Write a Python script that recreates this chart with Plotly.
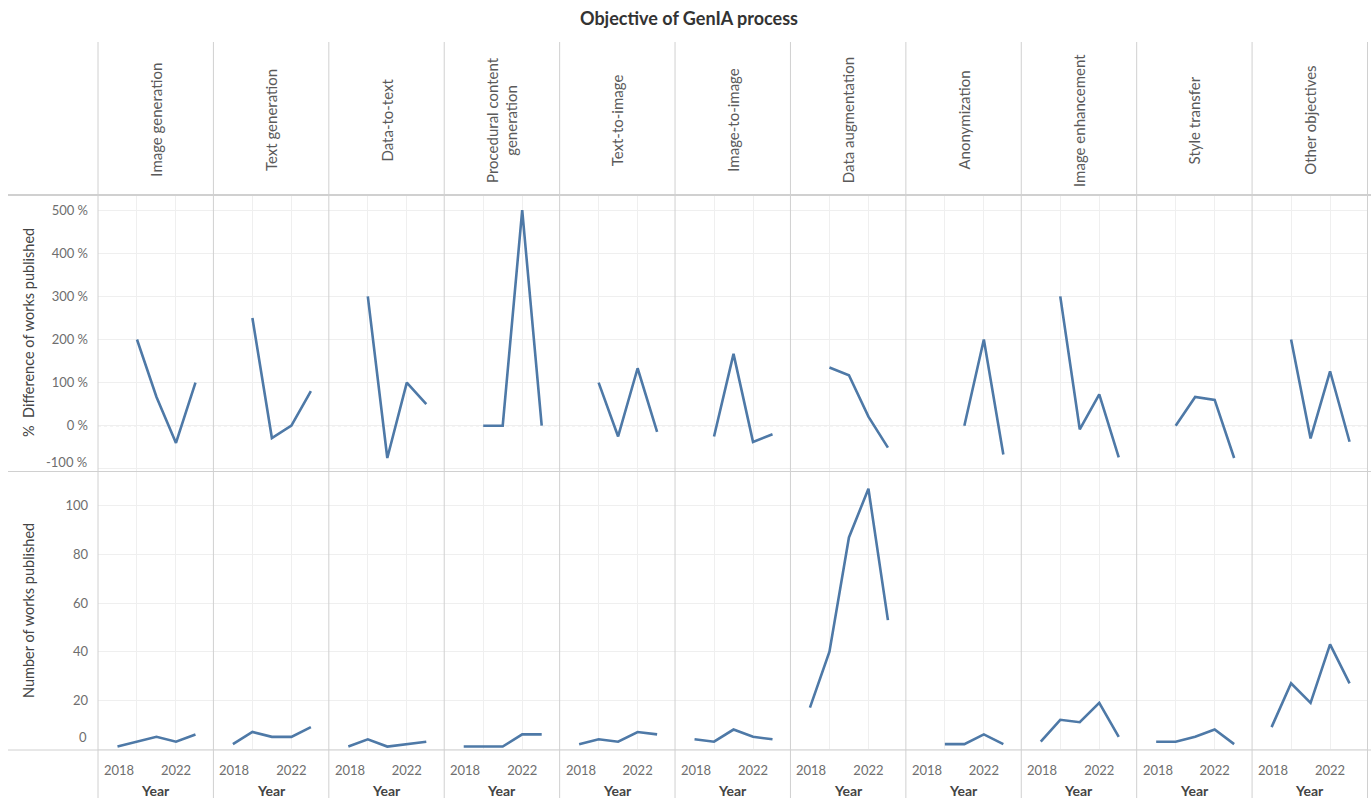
import plotly.graph_objects as go
from plotly.subplots import make_subplots

W, H = 1371, 798

# ---- data ---------------------------------------------------------------
categories = [
    "Image generation", "Text generation", "Data-to-text",
    "Procedural content<br>generation", "Text-to-image", "Image-to-image",
    "Data augmentation", "Anonymization", "Image enhancement",
    "Style transfer", "Other objectives",
]
years = [2019, 2020, 2021, 2022, 2023]

# number of works published per year
works_image_generation = [1, 3, 5, 3, 6]
works_text_generation = [2, 7, 5, 5, 9]
works_data_to_text = [1, 4, 1, 2, 3]
works_procedural = [1, 1, 1, 6, 6]
works_text_to_image = [2, 4, 3, 7, 6]
works_image_to_image = [4, 3, 8, 5, 4]
works_data_augmentation = [17, 40, 87, 107, 53]
works_anonymization = [None, 2, 2, 6, 2]
works_image_enhancement = [3, 12, 11, 19, 5]
works_style_transfer = [3, 3, 5, 8, 2]
works_other = [9, 27, 19, 43, 27]

# % difference of works published vs. previous year
diff_image_generation = [None, 200, 66.7, -40, 100]
diff_text_generation = [None, 250, -28.6, 0, 80]
diff_data_to_text = [None, 300, -75, 100, 50]
diff_procedural = [None, 0, 0, 500, 0]
diff_text_to_image = [None, 100, -25, 133.3, -14.3]
diff_image_to_image = [None, -25, 166.7, -37.5, -20]
diff_data_augmentation = [None, 135, 117, 21, -51]
diff_anonymization = [None, None, 0, 200, -66.7]
diff_image_enhancement = [None, 300, -8.3, 72.7, -73.7]
diff_style_transfer = [None, 0, 66.7, 60, -75]
diff_other = [None, 200, -29.6, 126.3, -37.2]

pct_ticks = [-100, 0, 100, 200, 300, 400, 500]
count_ticks = [0, 20, 40, 60, 80, 100]
year_ticks = [2018, 2020, 2022]

works = [
    works_image_generation, works_text_generation, works_data_to_text,
    works_procedural, works_text_to_image, works_image_to_image,
    works_data_augmentation, works_anonymization, works_image_enhancement,
    works_style_transfer, works_other,
]
diffs = [
    diff_image_generation, diff_text_generation, diff_data_to_text,
    diff_procedural, diff_text_to_image, diff_image_to_image,
    diff_data_augmentation, diff_anonymization, diff_image_enhancement,
    diff_style_transfer, diff_other,
]

# ---- layout helpers -----------------------------------------------------
LINE = "#4e79a7"
GRID = "#efefef"
BORDER = "#d0d0d0"
FONT = "Lato"
TICK_COLOR = "#6e6e6e"

def fx(px):
    return px / W

def fy(py):
    return 1 - py / H

LEFT, RIGHT = 98, 1367.5
COLW = (RIGHT - LEFT) / len(categories)
TOP_PANE = (195, 471)
BOT_PANE = (472, 750)

fig = make_subplots(rows=2, cols=len(categories),
                    horizontal_spacing=0, vertical_spacing=0)

for i, cat in enumerate(categories):
    c = i + 1
    fig.add_trace(go.Scatter(x=years, y=diffs[i], mode="lines",
                             line=dict(color=LINE, width=2.6),
                             connectgaps=False, showlegend=False),
                  row=1, col=c)
    fig.add_trace(go.Scatter(x=years, y=works[i], mode="lines",
                             line=dict(color=LINE, width=2.6),
                             connectgaps=False, showlegend=False),
                  row=2, col=c)
    xdom = [fx(LEFT + i * COLW), fx(LEFT + (i + 1) * COLW)]
    common_x = dict(domain=xdom, range=[2018, 2023.92], tickvals=year_ticks,
                    showgrid=True, gridcolor=GRID, gridwidth=1,
                    zeroline=False, showline=False, ticks="")
    fig.update_xaxes(row=1, col=c, showticklabels=False, **common_x)
    fig.update_xaxes(row=2, col=c, showticklabels=True,
                     ticktext=["", "", "2022"],
                     tickfont=dict(family=FONT, size=13, color=TICK_COLOR),
                     ticklabelstandoff=11, **common_x)
    fig.update_yaxes(row=1, col=c, domain=[fy(TOP_PANE[1]), fy(TOP_PANE[0])],
                     range=[-105.1, 535.3], tickvals=pct_ticks,
                     ticktext=["" if v == -100 else f"{v} %" for v in pct_ticks],
                     showticklabels=(c == 1), showgrid=True, gridcolor=GRID,
                     zeroline=False, showline=False, ticks="",
                     ticklabelstandoff=9,
                     tickfont=dict(family=FONT, size=13, color=TICK_COLOR))
    fig.update_yaxes(row=2, col=c, domain=[fy(BOT_PANE[1]), fy(BOT_PANE[0])],
                     range=[-0.41, 113.9], tickvals=count_ticks,
                     ticktext=["" if v == 0 else str(v) for v in count_ticks],
                     showticklabels=(c == 1), showgrid=True, gridcolor=GRID,
                     zeroline=False, showline=False, ticks="",
                     ticklabelstandoff=9,
                     tickfont=dict(family=FONT, size=13, color=TICK_COLOR))

def note(text, x, y, xref="paper", yref="paper", **kw):
    d = dict(text=text, x=x, y=y, xref=xref, yref=yref, showarrow=False,
             xanchor="center", yanchor="middle")
    d.update(kw)
    return d

annotations = []
# chart title
annotations.append(note("<b>Objective of GenIA process</b>", fx(689), fy(18),
                        font=dict(family=FONT, size=18, color="#333333")))
ncol = len(categories)
for i, cat in enumerate(categories):
    cx = fx(LEFT + (i + 0.5) * COLW)
    # column header
    annotations.append(note(cat, cx, fy(120), textangle=-90,
                            font=dict(family=FONT, size=15, color="#5a5a5a")))
    # x axis title
    annotations.append(note("Year", cx, fy(790),
                            font=dict(family=FONT, size=14, color="#444444", weight="bold")))
    # first year label, kept inside its pane
    xname = "x" + str(ncol + i + 1)
    annotations.append(note("2018", 2018, fy(770), xref=xname, xanchor="left", xshift=4,
                            font=dict(family=FONT, size=13, color=TICK_COLOR)))

# edge tick labels nudged inside the panes
annotations.append(note("-100 %", fx(89), -100, yref="y", xanchor="right", yshift=7,
                        font=dict(family=FONT, size=13, color=TICK_COLOR)))
annotations.append(note("0", fx(89), 0, yref="y" + str(ncol + 1), xanchor="right", yshift=12,
                        font=dict(family=FONT, size=13, color=TICK_COLOR)))
# row titles
annotations.append(note("%&nbsp; Difference of works published", fx(28), fy(333),
                        textangle=-90, font=dict(family=FONT, size=14.5, color="#444444")))
annotations.append(note("Number of works published", fx(28), fy(611),
                        textangle=-90, font=dict(family=FONT, size=14.5, color="#444444")))

shapes = []
# dotted zero reference line across the % difference row
shapes.append(dict(type="line", xref="paper", yref="y", x0=fx(LEFT), x1=fx(RIGHT),
                   y0=0, y1=0, line=dict(color="#c2c2c2", width=1, dash="dot"), layer="below"))
# column dividers
for i in range(ncol + 1):
    xp = fx(LEFT + i * COLW)
    shapes.append(dict(type="line", xref="paper", yref="paper", x0=xp, x1=xp,
                       y0=fy(42), y1=fy(798), line=dict(color=BORDER, width=1)))
# row dividers
for py, wdt in [(195, 2), (471.5, 1), (750, 1)]:
    shapes.append(dict(type="line", xref="paper", yref="paper", x0=fx(8), x1=1,
                       y0=fy(py), y1=fy(py), line=dict(color=BORDER, width=wdt)))

fig.update_layout(width=W, height=H, margin=dict(l=0, r=0, t=0, b=0),
                  paper_bgcolor="white", plot_bgcolor="white",
                  annotations=annotations, shapes=shapes,
                  font=dict(family=FONT), showlegend=False)

fig.write_html("out.html")
